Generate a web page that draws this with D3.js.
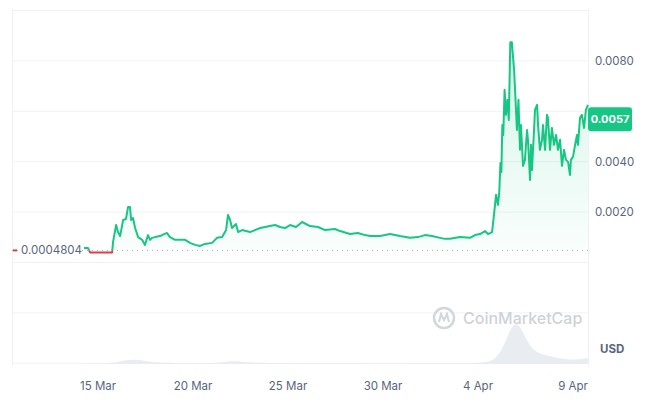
<!DOCTYPE html>
<html><head><meta charset="utf-8">
<script src="https://cdn.jsdelivr.net/npm/d3@7"></script>
<style>body{margin:0;background:#fff;font-family:Inter,"Noto Sans",sans-serif;}</style>
</head><body><svg id="c" width="657" height="409"></svg>
<script>
// day numbers counted from 1 Mar (32 = 1 Apr), price in USD
const priceDays = [14.26,14.47,14.58,14.84,15.74,15.79,15.95,16.05,16.16,16.32,16.47,16.58,16.68,16.74,16.84,16.95,17.11,17.32,17.47,17.63,17.74,17.84,18.0,18.26,18.47,18.63,18.79,19.05,19.32,19.58,19.84,20.11,20.37,20.63,21.0,21.26,21.53,21.74,21.84,21.95,22.05,22.26,22.37,22.58,22.79,23.0,23.26,23.53,23.79,24.05,24.32,24.58,24.84,25.11,25.42,25.74,26.16,26.58,26.95,27.47,27.74,28.26,28.68,29.05,29.32,29.84,30.37,30.89,31.42,31.84,32.21,32.58,33.0,33.26,33.53,34.05,34.58,34.84,35.11,35.37,35.53,35.74,35.84,35.95,36.05,36.12,36.18,36.23,36.28,36.33,36.4,36.47,36.55,36.62,36.7,36.78,36.9,37.05,37.13,37.21,37.26,37.37,37.47,37.58,37.63,37.74,37.79,37.84,37.95,38.0,38.11,38.16,38.26,38.37,38.42,38.53,38.63,38.68,38.79,38.89,39.0,39.11,39.21,39.32,39.42,39.53,39.63,39.74,39.84,39.89,40.0,40.11,40.21,40.26,40.37,40.47,40.58,40.68,40.79];
const prices = [0.00058,0.00058,0.00040,0.00040,0.00040,0.00082,0.00149,0.00121,0.00105,0.00169,0.00173,0.00221,0.00221,0.00169,0.00177,0.00137,0.00101,0.00090,0.00070,0.00109,0.00090,0.00098,0.00101,0.00105,0.00113,0.00117,0.00101,0.00090,0.00090,0.00090,0.00078,0.00070,0.00066,0.00074,0.00078,0.00098,0.00101,0.00129,0.00189,0.00169,0.00137,0.00153,0.00121,0.00129,0.00125,0.00121,0.00129,0.00137,0.00141,0.00145,0.00149,0.00141,0.00137,0.00149,0.00141,0.00161,0.00145,0.00141,0.00129,0.00133,0.00125,0.00113,0.00117,0.00109,0.00105,0.00105,0.00113,0.00105,0.00098,0.00101,0.00109,0.00105,0.00098,0.00094,0.00094,0.00101,0.00098,0.00109,0.00113,0.00125,0.00113,0.00121,0.00189,0.00269,0.00229,0.00281,0.00396,0.00360,0.00547,0.00507,0.00687,0.00587,0.00647,0.00567,0.00876,0.00876,0.00766,0.00527,0.00647,0.00448,0.00547,0.00384,0.00408,0.00527,0.00488,0.00328,0.00468,0.00368,0.00527,0.00607,0.00627,0.00547,0.00448,0.00488,0.00547,0.00448,0.00587,0.00575,0.00448,0.00535,0.00468,0.00507,0.00448,0.00488,0.00384,0.00448,0.00408,0.00400,0.00348,0.00408,0.00420,0.00468,0.00507,0.00468,0.00575,0.00587,0.00535,0.00607,0.00627,0.00575];
const volDays = [14.26,15.5,16.0,16.5,17.0,17.5,18.0,19.0,20.0,21.0,21.8,22.2,22.6,23.5,25.0,28.0,31.0,34.0,35.5,36.0,36.4,36.7,37.0,37.3,37.6,38.0,38.5,39.0,39.5,40.0,40.5,40.79];
const volumes = [0.3,0.5,2,4,4.5,3,1.5,1,0.8,0.8,2.5,3,2,1,0.8,0.6,0.6,0.7,1,6,20,35,42,35,22,12,9,7,5,4,5,6];
const yTicks = [0.0020,0.0040,0.0080];
const xTickDays = [15,20,25,30,35,40];
const openPrice = 0.0004804, lastPrice = 0.0057;

const toDate = d => new Date(2024, 2, 1 + Math.floor(d - 1), 0, 0, 0, (d - Math.floor(d)) * 864e5);
const svg = d3.select('#c');
const x = d3.scaleTime().domain([toDate(priceDays[0]), toDate(40.79)]).range([84, 588]);
const y = d3.scaleLinear().domain([0, 0.0060]).range([262.5, 111.6]);
const yv = d3.scaleLinear().domain([0, 42]).range([364, 322]);

//Grid.
const grid = d3.range(-4, 6).map(i => 262.5 - i * 50.4).filter(v => v >= 9 && v <= 366);
svg.selectAll('line.grid').data(grid).enter().append('line')
    .attr('x1', 12).attr('x2', 588).attr('y1', d => d).attr('y2', d => d)
    .attr('stroke', '#eff2f5').attr('stroke-width', 1);
svg.append('line').attr('x1', 12.5).attr('x2', 12.5).attr('y1', 9).attr('y2', 366).attr('stroke', '#eff2f5');
svg.append('line').attr('x1', 588.5).attr('x2', 588.5).attr('y1', 9).attr('y2', 366).attr('stroke', '#eff2f5');

//Volume.
svg.append('path').datum(volDays.map((d, i) => [d, volumes[i]]))
    .attr('d', d3.area().x(d => x(toDate(d[0]))).y0(364).y1(d => yv(d[1])).curve(d3.curveBasis))
    .attr('fill', '#e9ecf1');

//Watermark.
const wm = svg.append('g').attr('transform', 'translate(444,318)');
wm.append('circle').attr('r', 10).attr('fill', 'none').attr('stroke', '#d3d6dc').attr('stroke-width', 2.5);
wm.append('path').attr('d', 'M-5,4 L-3,-4 L0,2 L3,-4 L5,4').attr('fill', 'none').attr('stroke', '#d3d6dc').attr('stroke-width', 2);
svg.append('text').attr('x', 463).attr('y', 324).text('CoinMarketCap')
    .attr('fill', '#cfd2d8').attr('font-size', 16).attr('font-weight', 500);

//Price area + line, split at open price.
const pts = priceDays.map((d, i) => [toDate(d), prices[i]]);
const defs = svg.append('defs');
const grad = defs.append('linearGradient').attr('id', 'g').attr('x1', 0).attr('x2', 0).attr('y1', 0).attr('y2', 1);
grad.append('stop').attr('offset', '0%').attr('stop-color', '#16c784').attr('stop-opacity', 0.18);
grad.append('stop').attr('offset', '100%').attr('stop-color', '#16c784').attr('stop-opacity', 0.02);
const yb = y(openPrice);
defs.append('clipPath').attr('id', 'up').append('rect').attr('x', 0).attr('y', 0).attr('width', 657).attr('height', yb);
defs.append('clipPath').attr('id', 'dn').append('rect').attr('x', 0).attr('y', yb).attr('width', 657).attr('height', 200);
svg.append('path').datum(pts).attr('clip-path', 'url(#up)')
    .attr('d', d3.area().x(d => x(d[0])).y0(yb).y1(d => y(d[1])))
    .attr('fill', 'url(#g)');
svg.append('line').attr('x1', 12).attr('x2', 588).attr('y1', yb).attr('y2', yb)
    .attr('stroke', '#a6b0c3').attr('stroke-dasharray', '1,4');
const line = d3.line().x(d => x(d[0])).y(d => y(d[1]));
svg.append('path').datum(pts).attr('d', line).attr('clip-path', 'url(#up)')
    .attr('fill', 'none').attr('stroke', '#16c784').attr('stroke-width', 2).attr('stroke-linejoin', 'round');
svg.append('path').datum(pts).attr('d', line).attr('clip-path', 'url(#dn)')
    .attr('fill', 'none').attr('stroke', '#ea3943').attr('stroke-width', 2).attr('stroke-linejoin', 'round');

//Open price label.
svg.append('rect').attr('x', 18).attr('y', yb - 8).attr('width', 62).attr('height', 16).attr('fill', '#fff');
svg.append('line').attr('x1', 13).attr('x2', 17).attr('y1', yb).attr('y2', yb).attr('stroke', '#ea3943').attr('stroke-width', 2);
svg.append('text').attr('x', 21).attr('y', yb + 4).text(openPrice.toFixed(7))
    .attr('fill', '#58667e').attr('font-size', 11.5);

//Right axis.
svg.selectAll('text.yt').data(yTicks).enter().append('text')
    .attr('x', 595).attr('y', d => y(d) + 4).text(d => d.toFixed(4))
    .attr('fill', '#58667e').attr('font-size', 11.5);
svg.append('rect').attr('x', 588).attr('y', y(lastPrice) - 12).attr('width', 44).attr('height', 24).attr('rx', 3).attr('fill', '#16c784');
svg.append('text').attr('x', 610).attr('y', y(lastPrice) + 4).attr('text-anchor', 'middle').text(lastPrice.toFixed(4))
    .attr('fill', '#fff').attr('font-size', 11).attr('font-weight', 700);
svg.append('text').attr('x', 600).attr('y', 353).text('USD')
    .attr('fill', '#58667e').attr('font-size', 11.5).attr('font-weight', 700);

//Bottom axis.
svg.selectAll('text.xt').data(xTickDays).enter().append('text')
    .attr('x', d => x(toDate(d))).attr('y', 390).attr('text-anchor', 'middle')
    .text(d => d3.timeFormat('%-d %b')(toDate(d)))
    .attr('fill', '#58667e').attr('font-size', 11.5);
</script></body></html>
